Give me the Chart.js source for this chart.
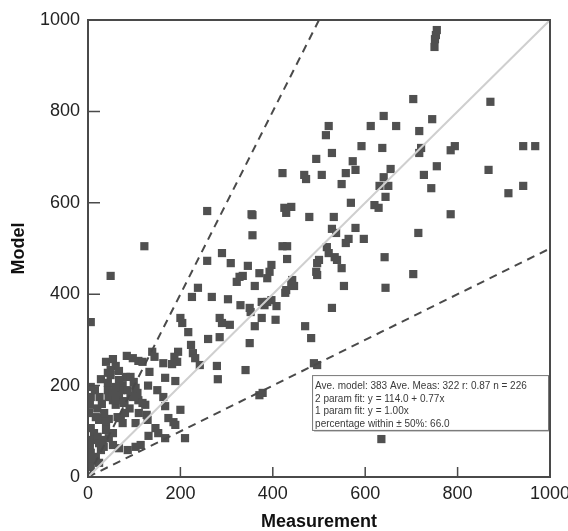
<!DOCTYPE html>
<html lang="en">
<head>
  <meta charset="UTF-8">
  <title>Model vs Measurement</title>
  <script src="https://cdn.jsdelivr.net/npm/chart.js@4"></script>
  <style>
    html, body { margin: 0; padding: 0; background: #fff; }
    #wrap { position: relative; width: 568px; height: 531px; }
  </style>
</head>
<body>
  <div id="wrap"><canvas id="chart"></canvas></div>

  <script>
    // Paired samples: measurement (x) and model (y)
    const measurement = [
      640, 612, 667, 521, 515, 592, 637, 528, 494, 573, 579, 421, 468, 472, 506, 558, 549, 655, 640, 650, 631, 644, 569, 620, 440, 425,
      704, 871, 745, 717, 794, 785, 942, 968, 721, 717, 755, 867, 727, 743, 910, 942, 785, 715, 704,
      755, 753, 751, 750, 635,
      629, 429, 356, 479, 532, 579, 528, 537, 597, 564, 558, 421, 431, 517, 521, 356, 642, 534, 539, 500, 496, 431, 549, 397, 393, 388, 371, 494, 496, 554, 644, 361, 442, 440, 446, 429, 427, 397, 388, 408, 382, 376, 350, 528, 376, 361, 406, 470, 483, 350, 489, 496, 378, 371,
      49, 122, 258, 354, 290, 258, 309, 346, 328, 322, 335, 238, 225, 268, 303,
      6, 330, 352, 200, 204, 217, 285, 290, 307, 260, 285, 223, 227, 232, 242, 279, 341, 281, 195, 187, 193, 139, 144, 109, 118, 133, 167, 189, 163, 182,
      60, 67, 49, 43, 28, 82, 92, 75, 99, 103, 45, 54, 60, 71, 86, 92, 107, 109, 118, 124, 163, 167, 67, 79,
      17, 24, 32, 39, 45, 64, 71, 75, 103, 127, 129, 174, 185, 189, 200, 146, 152, 131, 210, 167, 114, 86, 67,
      6, 13, 11, 4, 6, 11, 6, 21, 24, 32, 39, 45, 54, 28, 34, 17, 24, 103, 54,
      49, 43, 43, 45, 67, 60, 54, 60, 97, 77, 39, 54, 84, 97, 6, 4, 6, 2,
      20, 30, 80, 90, 110, 150, 130, 15, 25, 35
    ];
    const model = [
      790, 768, 768, 768, 748, 724, 720, 709, 696, 691, 672, 665, 661, 652, 661, 665, 641, 674, 656, 637, 637, 613, 600, 595, 591, 589,
      827, 821, 783, 757, 724, 715, 724, 724, 720, 709, 680, 672, 661, 632, 621, 637, 575, 534, 444,
      978, 967, 958, 941, 83,
      589, 578, 573, 569, 569, 545, 543, 534, 521, 521, 512, 505, 505, 503, 490, 529, 481, 481, 475, 475, 468, 477, 457, 464, 449, 435, 446, 449, 442, 418, 414, 418, 431, 420, 418, 409, 403, 387, 383, 374, 376, 383, 370, 370, 348, 330, 344, 330, 304, 293, 249, 245, 184, 179,
      440, 505, 582, 575, 490, 473, 468, 462, 438, 427, 440, 414, 394, 394, 389,
      339, 376, 361, 348, 337, 317, 348, 337, 333, 302, 306, 289, 271, 260, 245, 243, 234, 214, 274, 263, 252, 274, 263, 254, 252, 230, 217, 210, 249, 247,
      243, 232, 234, 228, 214, 219, 219, 201, 208, 195, 177, 168, 158, 190, 190, 177, 184, 168, 162, 158, 175, 155, 175, 166,
      131, 125, 129, 120, 127, 131, 129, 118, 118, 136, 125, 129, 120, 114, 147, 107, 96, 90, 85, 85, 70, 59, 63,
      107, 96, 81, 66, 53, 37, 22, 88, 74, 81, 103, 85, 96, 59, 66, 44, 31, 66, 70,
      223, 206, 190, 175, 212, 197, 184, 168, 175, 162, 252, 258, 265, 260, 197, 158, 175, 140,
      150, 160, 140, 150, 140, 190, 200, 190, 175, 140
    ];

    // Reference lines: 1:1 and factor-of-two bounds
    const oneToOneX = [0, 1000];
    const oneToOneY = [0, 1000];
    const upperBoundX = [0, 500];
    const upperBoundY = [0, 1000];
    const lowerBoundX = [0, 1000];
    const lowerBoundY = [0, 500];

    const axisTicks = [0, 200, 400, 600, 800, 1000];

    const statsLines = [
      'Ave. model: 383 Ave. Meas: 322 r: 0.87 n = 226',
      '2 param fit: y = 114.0 + 0.77x',
      '1 param fit: y = 1.00x',
      'percentage within \u00b1 50%: 66.0'
    ];

    const FONT = "'Liberation Sans', Arial, sans-serif";

    const toPoints = (xs, ys) => xs.map((x, i) => ({ x: x, y: ys[i] }));

    // frame, inward tick marks and the stats box
    const framePlugin = {
      id: 'framePlugin',
      afterDatasetsDraw(chart) {
        const { ctx, chartArea: a, scales } = chart;
        const xs = scales.x, ys = scales.y;
        ctx.save();

        // stats box, anchored in data coordinates
        const bx = xs.getPixelForValue(485), by = ys.getPixelForValue(223);
        const bw = a.right - 2 - bx, bh = ys.getPixelForValue(103) - by;
        ctx.fillStyle = '#c8c8c8';
        ctx.fillRect(bx + 2, by + 2, bw, bh);
        ctx.fillStyle = '#fff';
        ctx.fillRect(bx, by, bw, bh);
        ctx.strokeStyle = '#777';
        ctx.lineWidth = 1;
        ctx.strokeRect(bx + 0.5, by + 0.5, bw, bh);
        ctx.fillStyle = '#3a3a3a';
        ctx.font = '10px ' + FONT;
        ctx.textBaseline = 'middle';
        ctx.textAlign = 'left';
        statsLines.forEach((s, i) => ctx.fillText(s, bx + 3, by + 11 + i * 12.7));

        // frame
        ctx.strokeStyle = '#4a4a4a';
        ctx.lineWidth = 2;
        ctx.strokeRect(a.left, a.top, a.right - a.left, a.bottom - a.top);

        // inward ticks
        ctx.lineWidth = 1.5;
        ctx.beginPath();
        xs.ticks.forEach(t => {
          const px = xs.getPixelForValue(t.value);
          ctx.moveTo(px, a.bottom);
          ctx.lineTo(px, a.bottom - 10);
        });
        ys.ticks.forEach(t => {
          const py = ys.getPixelForValue(t.value);
          ctx.moveTo(a.left, py);
          ctx.lineTo(a.left + 12, py);
        });
        ctx.stroke();
        ctx.restore();
      }
    };

    const ctx = document.getElementById('chart').getContext('2d');
    const chart = new Chart(ctx, {
      type: 'scatter',
      data: {
        datasets: [
          {
            label: '1:1',
            data: toPoints(oneToOneX, oneToOneY),
            showLine: true,
            borderColor: '#cfcfcf',
            borderWidth: 2,
            pointRadius: 0
          },
          {
            label: '2:1',
            data: toPoints(upperBoundX, upperBoundY),
            showLine: true,
            borderColor: '#4a4a4a',
            borderWidth: 2,
            borderDash: [8, 6],
            pointRadius: 0
          },
          {
            label: '1:2',
            data: toPoints(lowerBoundX, lowerBoundY),
            showLine: true,
            borderColor: '#4a4a4a',
            borderWidth: 2,
            borderDash: [8, 6],
            pointRadius: 0
          },
          {
            label: 'samples',
            data: toPoints(measurement, model),
            pointStyle: 'rect',
            pointRadius: 5.8,
            pointHoverRadius: 5.8,
            backgroundColor: '#505050',
            borderWidth: 0
          }
        ]
      },
      options: {
        responsive: true,
        maintainAspectRatio: false,
        animation: false,
        layout: { padding: { top: 20, right: 18, bottom: 0, left: 0 } },
        plugins: {
          legend: { display: false },
          tooltip: { enabled: false }
        },
        scales: {
          x: {
            type: 'linear',
            min: 0,
            max: 1000,
            afterBuildTicks: s => { s.ticks = axisTicks.map(v => ({ value: v })); },
            afterFit: s => { s.height = 54; s.paddingLeft = 0; s.paddingRight = 0; },
            grid: { display: false, drawTicks: false },
            border: { display: false },
            ticks: { padding: 6, color: '#222', font: { family: FONT, size: 18 }, callback: v => String(v) },
            title: {
              display: true,
              text: 'Measurement',
              color: '#111',
              padding: { top: 0, bottom: 0 },
              font: { family: FONT, size: 18, weight: 'bold', lineHeight: 1 }
            }
          },
          y: {
            type: 'linear',
            min: 0,
            max: 1000,
            afterBuildTicks: s => { s.ticks = axisTicks.map(v => ({ value: v })); },
            afterFit: s => { s.width = 88; s.paddingTop = 0; s.paddingBottom = 0; },
            grid: { display: false, drawTicks: false },
            border: { display: false },
            ticks: { padding: 8, color: '#222', font: { family: FONT, size: 18 }, callback: v => String(v) },
            title: {
              display: true,
              text: 'Model',
              color: '#111',
              padding: { top: 8, bottom: 0 },
              font: { family: FONT, size: 18, weight: 'bold', lineHeight: 1.2 }
            }
          }
        }
      },
      plugins: [framePlugin]
    });
  </script>
</body>
</html>
